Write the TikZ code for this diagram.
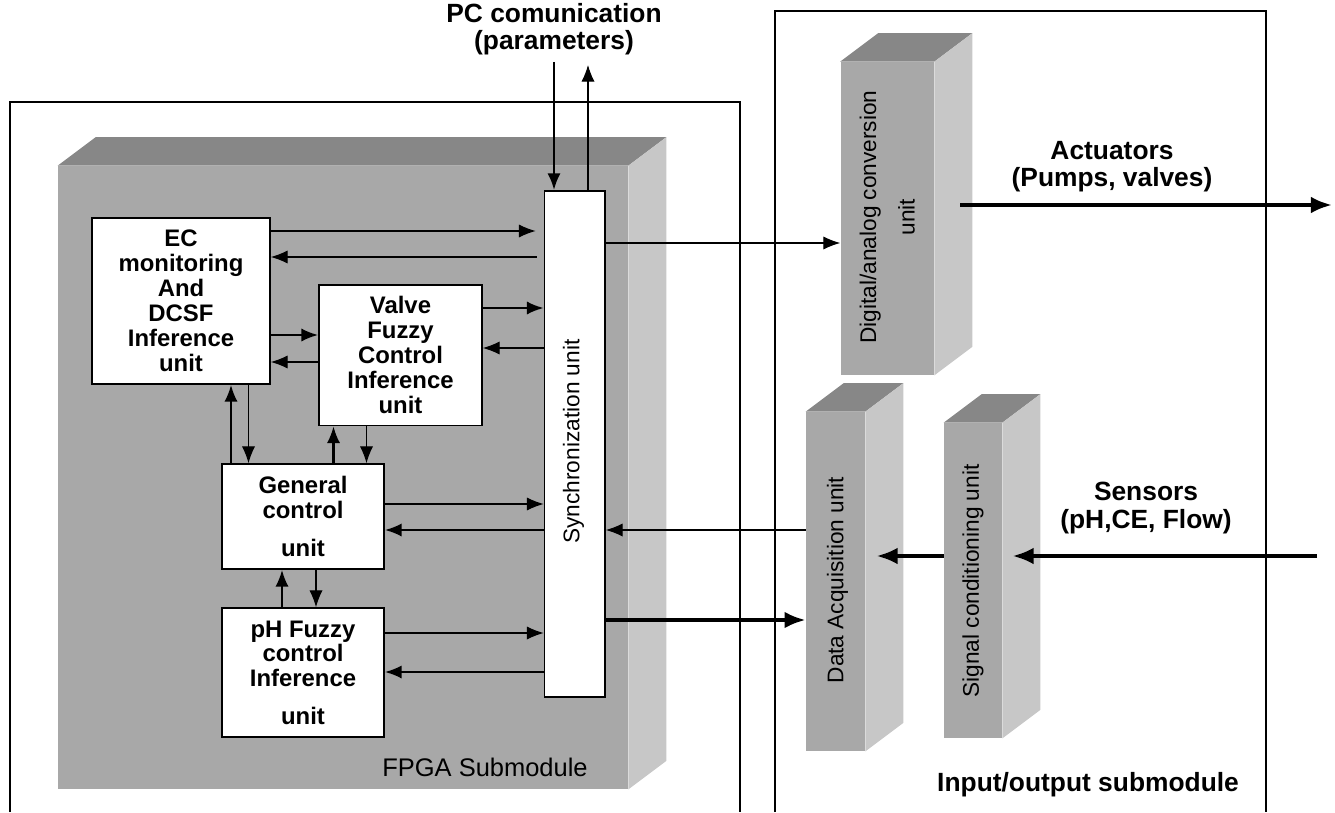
\documentclass[tikz,border=0pt]{standalone}
\usepackage{fontspec}
\setmainfont{Liberation Sans}
\usepackage{tikz}
\usetikzlibrary{arrows.meta,calc}

\definecolor{frontgray}{gray}{0.66}
\definecolor{topgray}{gray}{0.53}
\definecolor{sidegray}{gray}{0.78}

\tikzset{
  >={Latex[length=9.5pt,width=7.5pt]},
  unitbox/.style={draw, fill=white, line width=1pt, align=center, inner sep=0pt,
    font=\fontsize{13.6}{14.2}\selectfont\bfseries},
  slab/.style={fill=frontgray, inner sep=0pt},
  rottext/.style={rotate=90, align=center, font=\fontsize{12.9}{22}\selectfont},
  extlabel/.style={align=center, font=\fontsize{15}{15.5}\selectfont\bfseries},
  link/.style={->, line width=0.6pt},
  buslink/.style={->, line width=1.2pt},
  bigarrow/.style={-{Latex[length=12pt,width=9.5pt]}, line width=2.2pt},
}

\begin{document}
\begin{tikzpicture}
  \useasboundingbox (0,0) rectangle (26.7,16.24);

  \draw[line width=1.3pt] (0.2,0) -- (0.2,14.2) -- (14.8,14.2) -- (14.8,0);
  \draw[line width=1.3pt] (15.5,0) -- (15.5,16.02) -- (25.32,16.02) -- (25.32,0);

  \node[slab, minimum width=11.4cm, minimum height=12.46cm] (fpga) at (6.86,6.69) {};
  \node[slab, minimum width=1.87cm, minimum height=6.26cm] (dac) at (17.745,11.87) {};
  \node[slab, minimum width=1.18cm, minimum height=6.78cm] (daq) at (16.71,4.61) {};
  \node[slab, minimum width=1.16cm, minimum height=6.30cm] (sig) at (19.46,4.63) {};
  \foreach \s in {fpga,dac,daq,sig}{
    \fill[topgray] (\s.north west) -- ++(0.76,0.57) -- ($(\s.north east)+(0.76,0.57)$) -- (\s.north east) -- cycle;
    \fill[sidegray] (\s.north east) -- ++(0.76,0.57) -- ($(\s.south east)+(0.76,0.57)$) -- (\s.south east) -- cycle;
  }

  \node[rottext] (dactext) at (17.745,11.9) {Digital/analog conversion\\unit};
  \node[rottext] (daqtext) at (16.75,4.64) {Data Acquisition unit};
  \node[rottext] (sigtext) at (19.46,4.62) {Signal conditioning unit};

  \node[unitbox, minimum width=3.56cm, minimum height=3.32cm] (ec) at (3.62,10.22) {EC\\monitoring\\And\\DCSF\\Inference\\unit};
  \node[unitbox, minimum width=3.26cm, minimum height=2.81cm] (valve) at (8.01,9.135) {Valve\\Fuzzy\\Control\\Inference\\unit};
  \node[unitbox, minimum width=3.24cm, minimum height=2.10cm] (general) at (6.06,5.91) {General\\control\\[7pt]unit};
  \node[unitbox, minimum width=3.24cm, minimum height=2.58cm] (ph) at (6.06,2.79) {pH Fuzzy\\control\\Inference\\[7pt]unit};
  \node[unitbox, minimum width=1.21cm, minimum height=10.12cm] (sync) at (11.495,7.36) {};
  \node[rottext] (synctext) at (11.47,7.41) {Synchronization unit};

  \node[extlabel] (pc) at (11.08,15.65) {PC comunication\\(parameters)};
  \node[extlabel] (act) at (22.24,12.9) {Actuators\\(Pumps, valves)};
  \node[extlabel] (sens) at (22.92,6.08) {Sensors\\(pH,CE, Flow)};
  \node[extlabel] (iolabel) at (21.76,0.54) {Input/output submodule};
  \node[font=\fontsize{14.5}{15}\selectfont] (fpgalabel) at (9.7,0.9) {FPGA Submodule};

  \coordinate (pcin) at (11.08,15.0);
  \coordinate (pcout) at (11.76,14.94);
  \draw[->, line width=1.5pt] (pcin) -- (pcin |- sync.north);
  \draw[link] (pcout |- sync.north) -- (pcout);

  \draw[link, shorten >=0.16cm] (ec.east |- 0,11.62) -- (sync.west |- 0,11.62);
  \draw[link, shorten <=0.14cm] (sync.west |- 0,11.1) -- (ec.east |- 0,11.1);
  \draw[buslink] (valve.east |- 0,10.08) -- (sync.west |- 0,10.08);
  \draw[link] (sync.west |- 0,9.28) -- (valve.east |- 0,9.28);
  \draw[buslink] (ec.east |- 0,9.54) -- (valve.west |- 0,9.54);
  \draw[link] (valve.west |- 0,9.0) -- (ec.east |- 0,9.0);

  \draw[buslink] (4.62,0 |- general.north) -- (4.62,0 |- ec.south);
  \draw[link] (4.97,0 |- ec.south) -- (4.97,0 |- general.north);
  \draw[buslink] (6.67,0 |- general.north) -- (6.67,0 |- valve.south);
  \draw[link] (7.33,0 |- valve.south) -- (7.33,0 |- general.north);
  \draw[link] (general.east |- 0,6.16) -- (sync.west |- 0,6.16);
  \draw[buslink] (sync.west |- 0,5.64) -- (general.east |- 0,5.64);
  \draw[buslink] (5.64,0 |- ph.north) -- (5.64,0 |- general.south);
  \draw[link] (6.32,0 |- general.south) -- (6.32,0 |- ph.north);
  \draw[link] (ph.east |- 0,3.58) -- (sync.west |- 0,3.58);
  \draw[buslink] (sync.west |- 0,2.8) -- (ph.east |- 0,2.8);

  \draw[link] (sync.east |- 0,11.38) -- (dac.west |- 0,11.38);
  \draw[link] (daq.west |- 0,5.64) -- (sync.east |- 0,5.64);
  \draw[bigarrow] (sync.east |- 0,3.84) -- (daq.west |- 0,3.84);

  \coordinate (actstart) at (19.2,12.14);
  \coordinate (actend) at (26.64,12.14);
  \draw[bigarrow] (actstart) -- (actend);
  \coordinate (sensstart) at (26.34,5.12);
  \coordinate (sigin) at (20.25,5.12);
  \coordinate (daqin) at (17.53,5.12);
  \draw[bigarrow] (sensstart) -- (sigin);
  \draw[bigarrow] (sig.west |- sigin) -- (daqin);
\end{tikzpicture}
\end{document}
